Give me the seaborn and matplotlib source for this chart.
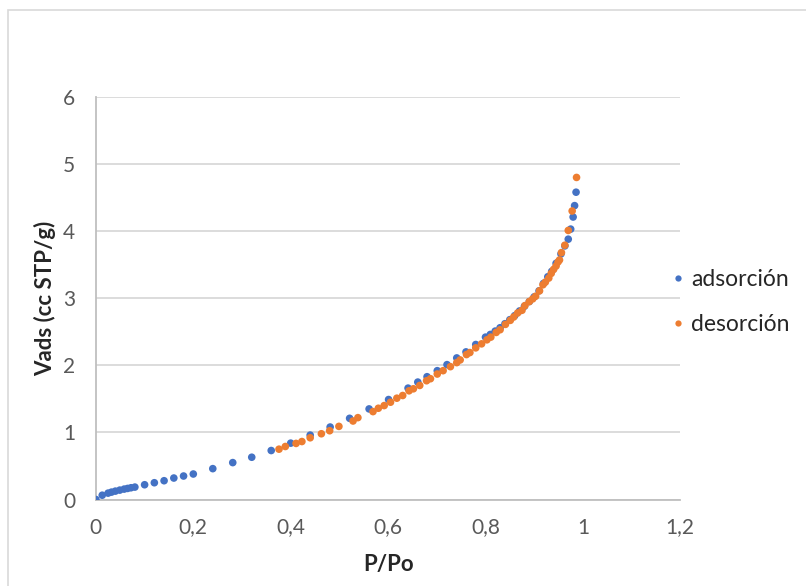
import pandas as pd
import seaborn as sns
import matplotlib.pyplot as plt
from matplotlib.patches import Rectangle
from matplotlib.ticker import FuncFormatter

# Isotherm data
p_ads = [0.0, 0.013, 0.025, 0.032, 0.040, 0.049, 0.058, 0.065, 0.072, 0.080,
         0.100, 0.120, 0.140, 0.160, 0.180, 0.200, 0.240, 0.281, 0.320, 0.360,
         0.400, 0.440, 0.481, 0.521, 0.561, 0.601, 0.641, 0.661, 0.680, 0.701,
         0.721, 0.741, 0.760, 0.780, 0.800, 0.810, 0.820, 0.830, 0.840, 0.850,
         0.860, 0.870, 0.880, 0.890, 0.900, 0.910, 0.919, 0.928, 0.936, 0.945,
         0.955, 0.963, 0.970, 0.975, 0.980, 0.983, 0.986]
v_ads = [0.0, 0.064, 0.095, 0.11, 0.125, 0.14, 0.155, 0.165, 0.175, 0.185,
         0.22, 0.25, 0.28, 0.32, 0.35, 0.38, 0.46, 0.55, 0.63, 0.73,
         0.84, 0.96, 1.08, 1.21, 1.35, 1.49, 1.66, 1.75, 1.83, 1.92,
         2.01, 2.11, 2.20, 2.31, 2.42, 2.46, 2.51, 2.56, 2.62, 2.68,
         2.74, 2.81, 2.88, 2.95, 3.02, 3.11, 3.22, 3.32, 3.40, 3.52,
         3.66, 3.78, 3.88, 4.03, 4.21, 4.38, 4.58]

p_des = [0.376, 0.389, 0.411, 0.423, 0.440, 0.463, 0.480, 0.499, 0.528, 0.538,
         0.569, 0.580, 0.592, 0.605, 0.618, 0.630, 0.643, 0.652, 0.665, 0.679,
         0.687, 0.701, 0.713, 0.728, 0.741, 0.748, 0.761, 0.768, 0.780, 0.792,
         0.803, 0.811, 0.822, 0.830, 0.841, 0.851, 0.858, 0.866, 0.875, 0.881,
         0.890, 0.897, 0.903, 0.911, 0.918, 0.923, 0.930, 0.935, 0.940, 0.945,
         0.949, 0.952, 0.956, 0.963, 0.970, 0.978, 0.987]
v_des = [0.75, 0.79, 0.836, 0.864, 0.92, 0.98, 1.025, 1.09, 1.17, 1.22,
         1.31, 1.36, 1.40, 1.45, 1.51, 1.55, 1.62, 1.65, 1.70, 1.77,
         1.80, 1.87, 1.92, 1.98, 2.04, 2.08, 2.16, 2.19, 2.26, 2.32,
         2.38, 2.42, 2.49, 2.53, 2.61, 2.67, 2.72, 2.78, 2.82, 2.89,
         2.95, 2.99, 3.03, 3.11, 3.20, 3.24, 3.30, 3.37, 3.43, 3.48,
         3.54, 3.57, 3.68, 3.79, 4.01, 4.30, 4.80]

series_names = ["adsorción", "desorción"]
x_ticks = [0, 0.2, 0.4, 0.6, 0.8, 1.0, 1.2]
y_ticks = [0, 1, 2, 3, 4, 5, 6]

df = pd.concat([
    pd.DataFrame({"P/Po": p_ads, "Vads": v_ads, "serie": series_names[0]}),
    pd.DataFrame({"P/Po": p_des, "Vads": v_des, "serie": series_names[1]}),
])

sns.set_theme(style="white")
plt.rcParams["font.family"] = ["Lato", "DejaVu Sans"]

fig = plt.figure(figsize=(8.06, 5.86), dpi=100)
ax = fig.add_axes([0.119, 0.1476, 0.725, 0.687])

palette = {"adsorción": "#4472C4", "desorción": "#ED7D31"}

sns.scatterplot(data=df, x="P/Po", y="Vads", hue="serie", palette=palette,
                s=30, edgecolor="none", ax=ax, legend=False, zorder=3)

ax.set_xlim(0, 1.2)
ax.set_ylim(0, 6)
ax.set_xticks(x_ticks)
ax.set_yticks(y_ticks)
ax.xaxis.set_major_formatter(FuncFormatter(lambda v, _: f"{v:g}".replace(".", ",")))
ax.yaxis.set_major_formatter(FuncFormatter(lambda v, _: f"{v:g}"))
ax.tick_params(axis="both", labelsize=15, labelcolor="#595959", length=0)
ax.tick_params(axis="x", pad=13)
ax.tick_params(axis="y", pad=15)

ax.grid(axis="y", color="#d9d9d9", linewidth=1.3)
ax.set_axisbelow(True)
for side in ["top", "right"]:
    ax.spines[side].set_visible(False)
for side in ["left", "bottom"]:
    ax.spines[side].set_color("#bfbfbf")
    ax.spines[side].set_linewidth(1.3)

ax.set_xlabel("P/Po", fontsize=16, fontweight="bold", color="#262626", labelpad=12)
ax.set_ylabel("Vads (cc STP/g)", fontsize=16, fontweight="bold", color="#262626", labelpad=5)

# legend to the right of the plot
handles = [plt.Line2D([], [], marker="o", linestyle="", markersize=4.5,
                      markerfacecolor=palette[n], markeredgecolor="none")
           for n in series_names]
ax.legend(handles, series_names, loc="center left", bbox_to_anchor=(0.985, 0.49),
          frameon=False, fontsize=16.5, handletextpad=0.25, labelspacing=1.05,
          handlelength=0.6, borderaxespad=0, borderpad=0, labelcolor="#262626")

# chart border
fig.patches.append(Rectangle((8 / 806, -0.05), 1.1, 1 - 10 / 586 + 0.05,
                             transform=fig.transFigure, fill=False,
                             edgecolor="#d9d9d9", linewidth=1.2))

plt.savefig("out.png", dpi=100)
